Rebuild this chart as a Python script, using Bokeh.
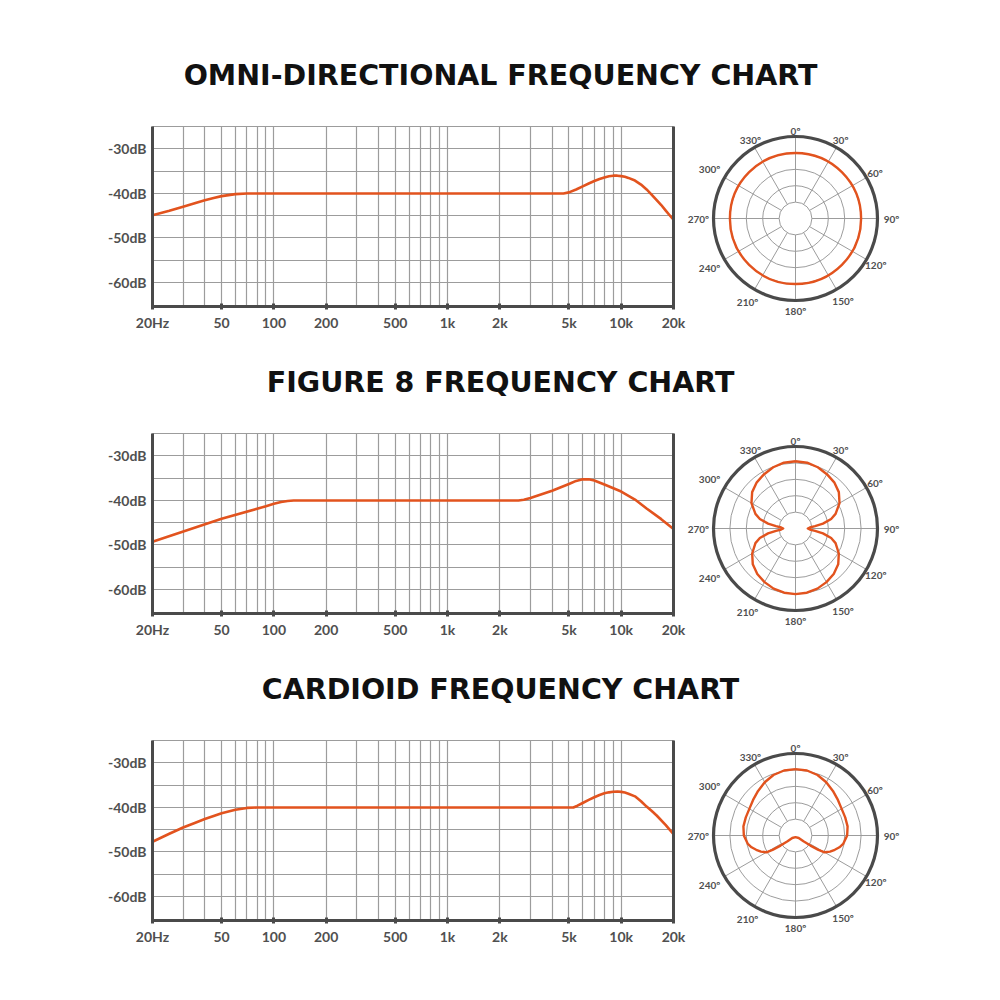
import numpy as np
from bokeh.plotting import figure
from bokeh.layouts import column, row
from bokeh.models import Range1d, FixedTicker, LinearAxis
from bokeh.core.properties import value
from bokeh.embed import file_html
from bokeh.resources import INLINE

# ---------------- data ----------------
TITLES = ["OMNI-DIRECTIONAL FREQUENCY CHART",
          "FIGURE 8 FREQUENCY CHART",
          "CARDIOID FREQUENCY CHART"]

X_TICKS = [20, 50, 100, 200, 500, 1000, 2000, 5000, 10000, 20000]
X_TICK_LABELS = ["20Hz", "50", "100", "200", "500", "1k", "2k", "5k", "10k", "20k"]
Y_TICKS = [-30, -40, -50, -60]
Y_TICK_LABELS = ["-30dB", "-40dB", "-50dB", "-60dB"]
GRID_FREQS = [20, 30, 40, 50, 60, 70, 80, 90,
              100, 200, 300, 400, 500, 600, 700, 800, 900,
              1000, 2000, 3000, 4000, 5000, 6000, 7000, 8000, 9000,
              10000, 20000]
GRID_DB = [-60, -55, -50, -45, -40, -35, -30, -25]

OMNI_FREQ = [20, 25, 30, 35, 40, 45, 50, 60, 70, 100, 1000, 4650, 5000, 5500, 6000,
             6500, 7000, 7500, 8000, 8500, 9000, 9500, 10000, 10500, 11000, 12000,
             13000, 14000, 15000, 16000, 17000, 18000, 19000, 20000]
OMNI_DB = [-44.9, -43.9, -43.0, -42.2, -41.5, -41.0, -40.6, -40.15, -40.0, -40.0, -40.0,
           -40.0, -39.75, -39.1, -38.4, -37.75, -37.2, -36.75, -36.4, -36.15, -36.0,
           -36.0, -36.1, -36.25, -36.5, -37.1, -38.0, -39.1, -40.3, -41.5, -42.6,
           -43.8, -44.9, -45.9]

FIG8_FREQ = [20, 50, 90, 100, 110, 120, 130, 1000, 2560, 2750, 3000, 4000, 5000, 5500,
             6000, 6500, 7000, 8000, 10000, 12000, 14000, 17000, 20000]
FIG8_DB = [-49.3, -44.1, -41.3, -40.75, -40.35, -40.12, -40.0, -40.0, -40.0, -39.85,
           -39.45, -37.8, -36.3, -35.6, -35.25, -35.25, -35.5, -36.4, -38.0, -39.8,
           -41.8, -44.2, -46.4]

CARD_FREQ = [20, 25, 30, 35, 40, 45, 50, 60, 70, 80, 1000, 5300, 5600, 6000, 6500,
             7000, 7500, 8000, 8500, 9000, 9500, 10000, 10500, 11000, 12000, 13000,
             14000, 15000, 16000, 18000, 20000]
CARD_DB = [-47.7, -45.9, -44.5, -43.5, -42.6, -41.9, -41.3, -40.5, -40.1, -40.0, -40.0,
           -40.0, -39.6, -39.0, -38.3, -37.7, -37.2, -36.8, -36.6, -36.45, -36.4,
           -36.5, -36.65, -36.9, -37.5, -38.6, -39.8, -40.8, -41.8, -43.9, -46.0]

POLAR_LABEL_ANGLES = [0, 30, 60, 90, 120, 150, 180, 210, 240, 270, 300, 330]
POLAR_LABELS = ["0º", "30º", "60º", "90º", "120º", "150º", "180º",
                "210º", "240º", "270º", "300º", "330º"]
POLAR_RINGS = [0.2, 0.4, 0.6, 0.8]
POLAR_SPOKE_ANGLES = [0, 30, 60, 90, 120, 150, 180, 210, 240, 270, 300, 330]

OMNI_RADIUS = 0.8

FIG8_ANGLES = [0, 10, 20, 30, 40, 50, 60, 70, 75, 80, 83, 86, 90, 94, 97, 100, 105, 110,
               120, 130, 140, 150, 160, 170, 180, 190, 200, 210, 220, 230, 240, 250, 255,
               260, 263, 266, 270, 274, 277, 280, 285, 290, 300, 310, 320, 330, 340, 350, 360]
FIG8_R = [0.82, 0.815, 0.795, 0.765, 0.735, 0.69, 0.62, 0.52, 0.45, 0.34, 0.24, 0.175, 0.15,
          0.175, 0.24, 0.34, 0.45, 0.52, 0.61, 0.68, 0.725, 0.755, 0.78, 0.795, 0.80,
          0.795, 0.78, 0.755, 0.725, 0.68, 0.61, 0.52, 0.45, 0.34, 0.24, 0.175, 0.15,
          0.175, 0.24, 0.34, 0.45, 0.52, 0.62, 0.69, 0.735, 0.765, 0.795, 0.815, 0.82]

CARD_ANGLES = [0, 10, 20, 30, 40, 50, 60, 70, 80, 90, 100, 105, 110, 115, 120, 122, 124,
               126, 128, 180, 232, 234, 236, 238, 240, 245, 250, 255, 260, 270, 280, 290,
               300, 310, 320, 330, 340, 350, 360]
CARD_R = [0.81, 0.805, 0.785, 0.75, 0.71, 0.675, 0.65, 0.645, 0.645, 0.63, 0.59, 0.555,
          0.51, 0.465, 0.41, 0.33, 0.22, 0.12, 0.05, 0.02, 0.05, 0.12, 0.22, 0.33, 0.41,
          0.465, 0.51, 0.555, 0.59, 0.63, 0.645, 0.645, 0.65, 0.675, 0.71, 0.75, 0.785,
          0.805, 0.81]

# ---------------- styles ----------------
ORANGE = "#e2531e"
DARK = "#4a4a4a"
GRID = "#9c9c9c"
LABEL = "#505050"
LABEL_FONT = "Lato"
TITLE_FONT = "DejaVu Sans"
# label-centre distance from the polar centre (in outer-ring radii), per label
POLAR_LABEL_DIST = [1.07, 1.10, 1.12, 1.17, 1.13, 1.16, 1.13, 1.17, 1.21, 1.185, 1.21, 1.10]

TOTAL_W = 984
FREQ_W = 686
ROW_H = 227
BORDER_TOP = 18
BORDER_BOTTOM = 29
FRAME_H = ROW_H - BORDER_TOP - BORDER_BOTTOM
POLAR_W = 222
POLAR_CX = 109
R_PX = 82.0


def bare_fig(width, height, xr, yr, top=0, bottom=0):
    p = figure(width=width, height=height, x_range=xr, y_range=yr,
               x_axis_location=None, y_axis_location=None,
               output_backend="svg", toolbar_location=None, min_border=0,
               min_border_top=top, min_border_bottom=bottom)
    p.grid.visible = False
    p.outline_line_color = None
    return p


def title_fig(text, height, center_from_top):
    p = bare_fig(TOTAL_W, height, Range1d(0, TOTAL_W), Range1d(0, height))
    p.text(x=[500], y=[height - center_from_top], text=[text],
           text_font=value(TITLE_FONT), text_font_style="bold",
           text_font_size="28.5px", text_color="#111111",
           text_align="center", text_baseline="middle")
    return p


def freq_fig(freqs, dbs):
    p = figure(width=FREQ_W, height=ROW_H, x_axis_type="log",
               x_range=Range1d(20, 20000), y_range=Range1d(-65.4, -24.95),
               output_backend="svg", toolbar_location=None,
               min_border_left=152, min_border_right=FREQ_W - 152 - 521,
               min_border_top=BORDER_TOP, min_border_bottom=BORDER_BOTTOM)
    p.background_fill_color = "white"
    p.outline_line_color = GRID
    p.outline_line_width = 1

    p.xgrid.ticker = FixedTicker(ticks=GRID_FREQS)
    p.ygrid.ticker = FixedTicker(ticks=GRID_DB)
    p.grid.grid_line_color = GRID
    p.grid.grid_line_width = 1.2

    xa = p.xaxis[0]
    xa.ticker = FixedTicker(ticks=X_TICKS)
    xa.major_label_overrides = dict(zip(X_TICKS, X_TICK_LABELS))
    xa.axis_line_width = 3
    xa.axis_line_color = DARK
    xa.major_tick_in = 3
    xa.major_tick_out = 3
    xa.major_tick_line_width = 3
    xa.major_tick_line_color = DARK
    xa.minor_tick_line_color = None
    xa.major_label_standoff = 4
    xa.major_label_text_font = LABEL_FONT
    xa.major_label_text_font_style = "bold"
    xa.major_label_text_font_size = "14px"
    xa.major_label_text_color = LABEL

    # left axis: the thick line; its dB labels sit just above their grid lines
    ya = p.yaxis[0]
    ya.ticker = FixedTicker(ticks=[])
    ya.axis_line_width = 3
    ya.axis_line_color = DARK
    ya.major_tick_line_color = None
    ya.minor_tick_line_color = None
    p.text(x=[20] * len(Y_TICKS), y=Y_TICKS, text=Y_TICK_LABELS, x_offset=-6,
           text_align="right", text_baseline="alphabetic",
           text_font=value(LABEL_FONT), text_font_style="bold",
           text_font_size="14px", text_color=LABEL, level="overlay")

    right = LinearAxis(ticker=FixedTicker(ticks=[]), axis_line_width=3,
                       axis_line_color=DARK, major_tick_line_color=None,
                       minor_tick_line_color=None, major_label_text_font_size="10px")
    p.add_layout(right, "right")

    p.line(freqs, dbs, line_color=ORANGE, line_width=2.6, line_join="round")
    return p


def polar_fig(center_in_frame, pattern):
    # same top/bottom borders as the frequency chart, so both frames coincide
    p = bare_fig(POLAR_W, ROW_H,
                 Range1d(-POLAR_CX / R_PX, (POLAR_W - POLAR_CX) / R_PX),
                 Range1d(-(FRAME_H - center_in_frame) / R_PX, center_in_frame / R_PX),
                 top=BORDER_TOP, bottom=BORDER_BOTTOM)

    # rings
    p.circle(x=[0] * len(POLAR_RINGS), y=[0] * len(POLAR_RINGS), radius=POLAR_RINGS,
             fill_color=None, line_color=GRID, line_width=1)
    # spokes
    th = np.radians(POLAR_SPOKE_ANGLES)
    p.segment(x0=0.2 * np.sin(th), y0=0.2 * np.cos(th), x1=np.sin(th), y1=np.cos(th),
              line_color=GRID, line_width=1)
    # pattern
    if pattern == "omni":
        p.circle(x=[0], y=[0], radius=[OMNI_RADIUS], fill_color=None,
                 line_color=ORANGE, line_width=2.4)
    else:
        angs, rs = pattern
        t = np.radians(angs)
        r = np.array(rs)
        p.line(r * np.sin(t), r * np.cos(t), line_color=ORANGE, line_width=2.4,
               line_join="round")
    # outer ring
    p.circle(x=[0], y=[0], radius=[1.0], fill_color=None, line_color=DARK,
             line_width=3.2, level="overlay")

    # labels
    la = np.radians(POLAR_LABEL_ANGLES)
    d = np.array(POLAR_LABEL_DIST)
    p.text(x=d * np.sin(la), y=d * np.cos(la), text=POLAR_LABELS,
           text_font=value(LABEL_FONT), text_font_style="bold", text_font_size="10px",
           text_color=LABEL, text_align="center", text_baseline="middle",
           level="overlay")
    return p


rows = []
curves = [(OMNI_FREQ, OMNI_DB), (FIG8_FREQ, FIG8_DB), (CARD_FREQ, CARD_DB)]
patterns = ["omni", (FIG8_ANGLES, FIG8_R), (CARD_ANGLES, CARD_R)]
centers = [92, 95, 95]
title_specs = [(108, 75), (80, 47), (80, 47)]

for i in range(3):
    h, c = title_specs[i]
    rows.append(title_fig(TITLES[i], h, c))
    rows.append(row(freq_fig(*curves[i]), polar_fig(centers[i], patterns[i])))

layout = column(*rows)
open("out.html", "w").write(file_html(layout, INLINE))
